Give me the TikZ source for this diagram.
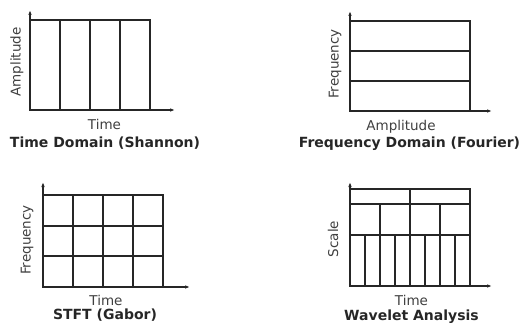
\documentclass[tikz,border=0pt]{standalone}
\usepackage{fontspec}
\setmainfont{DejaVu Sans}
\usetikzlibrary{arrows.meta}
\begin{document}
\begin{tikzpicture}[x=1pt,y=-1pt,
  gridline/.style={line width=1.2pt,draw=black!85},
  axisline/.style={line width=1.2pt,draw=black!85,-{Latex[length=5pt,width=3.6pt]}},
  axlabel/.style={font=\fontsize{13.5}{15}\selectfont,text=black!75,inner sep=0pt},
  ttl/.style={font=\fontsize{14}{16}\selectfont\bfseries,text=black!85,inner sep=0pt,anchor=base}]
\useasboundingbox (0,0) rectangle (522,326);
% ---------- Time domain ----------
\coordinate (a0) at (30,110);
\coordinate (aY) at (30,10);
\coordinate (aX) at (175,110);
\draw[gridline] (30,20) rectangle (150,110);
\foreach \x in {60,90,120} \draw[gridline] (\x,20) -- (\x,110);
\draw[axisline] (a0) -- (aY);
\draw[axisline] (a0) -- (aX);
\node[axlabel,rotate=90] (aLy) at (17,62) {Amplitude};
\node[axlabel,anchor=base] (aLx) at (104.5,130) {Time};
\node[ttl] (aT) at (105,148) {Time Domain (Shannon)};
% ---------- Frequency domain ----------
\coordinate (b0) at (350,111);
\coordinate (bY) at (350,11);
\coordinate (bX) at (492,111);
\draw[gridline] (350,21) rectangle (470,111);
\foreach \y in {51,81} \draw[gridline] (350,\y) -- (470,\y);
\draw[axisline] (b0) -- (bY);
\draw[axisline] (b0) -- (bX);
\node[axlabel,rotate=90] (bLy) at (335,64) {Frequency};
\node[axlabel,anchor=base] (bLx) at (401,131) {Amplitude};
\node[ttl] (bT) at (409.5,148) {Frequency Domain (Fourier)};
% ---------- STFT ----------
\coordinate (c0) at (43,287);
\coordinate (cY) at (43,182);
\coordinate (cX) at (190,287);
\draw[gridline] (43,195) rectangle (163,287);
\foreach \x in {73,103,133} \draw[gridline] (\x,195) -- (\x,287);
\foreach \y in {226,256} \draw[gridline] (43,\y) -- (163,\y);
\draw[axisline] (c0) -- (cY);
\draw[axisline] (c0) -- (cX);
\node[axlabel,rotate=90] (cLy) at (27,240) {Frequency};
\node[axlabel,anchor=base] (cLx) at (106,305) {Time};
\node[ttl] (cT) at (105,319) {STFT (Gabor)};
% ---------- Wavelet ----------
\coordinate (d0) at (350,286);
\coordinate (dY) at (350,182);
\coordinate (dX) at (492,286);
\draw[gridline] (350,189) rectangle (470,286);
\foreach \y in {204,235} \draw[gridline] (350,\y) -- (470,\y);
\draw[gridline] (410,189) -- (410,286);
\foreach \x in {380,440} \draw[gridline] (\x,204) -- (\x,286);
\foreach \x in {365,395,425,455} \draw[gridline] (\x,235) -- (\x,286);
\draw[axisline] (d0) -- (dY);
\draw[axisline] (d0) -- (dX);
\node[axlabel,rotate=90] (dLy) at (333,239) {Scale};
\node[axlabel,anchor=base] (dLx) at (411.5,305) {Time};
\node[ttl] (dT) at (411.5,320) {Wavelet Analysis};
\end{tikzpicture}
\end{document}
